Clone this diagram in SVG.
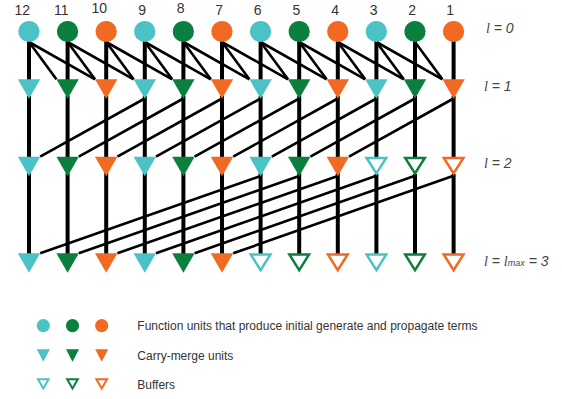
<svg xmlns="http://www.w3.org/2000/svg" xmlns:xlink="http://www.w3.org/1999/xlink" width="562" height="399" viewBox="0 0 562 399">
  <style>
    .teal { fill: #4BC3C6; }
    .green { fill: #0B7F3E; }
    .orange { fill: #F26A21; }
    .buf { fill: #FFFFFF; stroke-width: 2.5; stroke-linejoin: miter; }
    .buf.t { stroke: #4BC3C6; }
    .buf.g { stroke: #0B7F3E; }
    .buf.o { stroke: #F26A21; }
    .lbuf { fill: #FFFFFF; stroke-width: 2; }
    .lbuf.t { stroke: #4BC3C6; }
    .lbuf.g { stroke: #0B7F3E; }
    .lbuf.o { stroke: #F26A21; }
    .vert line { stroke: #000; stroke-width: 4; }
    .diag line { stroke: #000; stroke-width: 2.6; }
    .bit { font-family: "Liberation Sans", Arial, sans-serif; font-size: 14px; fill: #333; text-anchor: end; }
    .lvl { font-family: "Liberation Sans", Arial, sans-serif; font-size: 14px; font-style: italic; fill: #444; }
    .lvl .ell { font-family: "Liberation Serif", "Times New Roman", serif; }
    .lvl .sub { font-size: 9px; }
    .leg { font-family: "Liberation Sans", Arial, sans-serif; font-size: 12px; fill: #333; }
  </style>
  <defs>
    <polygon id="tri" points="-11.2,0 11.2,0 0,19.5"/>
    <polygon id="htri" points="-9.8,1.25 9.8,1.25 0,16.8"/>
    <polygon id="stri" points="-6.5,0 6.5,0 0,12.4"/>
    <polygon id="shtri" points="-5.3,1 5.3,1 0,10.2"/>
  </defs>

  <!-- connectors -->
  <g id="connectors">
    <g class="vert">
      <!-- input circle to level 1 -->
      <line x1="29" y1="31.5" x2="29" y2="82"/>
      <line x1="67.6" y1="31.5" x2="67.6" y2="82"/>
      <line x1="106.2" y1="31.5" x2="106.2" y2="82"/>
      <line x1="144.8" y1="31.5" x2="144.8" y2="82"/>
      <line x1="183.4" y1="31.5" x2="183.4" y2="82"/>
      <line x1="222" y1="31.5" x2="222" y2="82"/>
      <line x1="260.6" y1="31.5" x2="260.6" y2="82"/>
      <line x1="299.2" y1="31.5" x2="299.2" y2="82"/>
      <line x1="337.8" y1="31.5" x2="337.8" y2="82"/>
      <line x1="376.4" y1="31.5" x2="376.4" y2="82"/>
      <line x1="415" y1="31.5" x2="415" y2="82"/>
      <line x1="453.6" y1="31.5" x2="453.6" y2="82"/>
      <!-- level 1 to level 2 -->
      <line x1="29" y1="96" x2="29" y2="160"/>
      <line x1="67.6" y1="96" x2="67.6" y2="160"/>
      <line x1="106.2" y1="96" x2="106.2" y2="160"/>
      <line x1="144.8" y1="96" x2="144.8" y2="160"/>
      <line x1="183.4" y1="96" x2="183.4" y2="160"/>
      <line x1="222" y1="96" x2="222" y2="160"/>
      <line x1="260.6" y1="96" x2="260.6" y2="160"/>
      <line x1="299.2" y1="96" x2="299.2" y2="160"/>
      <line x1="337.8" y1="96" x2="337.8" y2="160"/>
      <line x1="376.4" y1="96" x2="376.4" y2="158.5"/>
      <line x1="415" y1="96" x2="415" y2="158.5"/>
      <line x1="453.6" y1="96" x2="453.6" y2="158.5"/>
      <!-- level 2 to level 3 -->
      <line x1="29" y1="173" x2="29" y2="257"/>
      <line x1="67.6" y1="173" x2="67.6" y2="257"/>
      <line x1="106.2" y1="173" x2="106.2" y2="257"/>
      <line x1="144.8" y1="173" x2="144.8" y2="257"/>
      <line x1="183.4" y1="173" x2="183.4" y2="257"/>
      <line x1="222" y1="173" x2="222" y2="257"/>
      <line x1="260.6" y1="173" x2="260.6" y2="255"/>
      <line x1="299.2" y1="173" x2="299.2" y2="255"/>
      <line x1="337.8" y1="173" x2="337.8" y2="255"/>
      <line x1="376.4" y1="174" x2="376.4" y2="255"/>
      <line x1="415" y1="174" x2="415" y2="255"/>
      <line x1="453.6" y1="174" x2="453.6" y2="255"/>
    </g>
    <g class="diag">
      <!-- input circles to level 1 (spans 1 and 2) -->
      <line x1="29" y1="42" x2="56.4" y2="79.3"/>
      <line x1="29" y1="42" x2="95" y2="79.3"/>
      <line x1="67.6" y1="42" x2="95" y2="79.3"/>
      <line x1="67.6" y1="42" x2="133.6" y2="79.3"/>
      <line x1="106.2" y1="42" x2="133.6" y2="79.3"/>
      <line x1="106.2" y1="42" x2="172.2" y2="79.3"/>
      <line x1="144.8" y1="42" x2="172.2" y2="79.3"/>
      <line x1="144.8" y1="42" x2="210.8" y2="79.3"/>
      <line x1="183.4" y1="42" x2="210.8" y2="79.3"/>
      <line x1="183.4" y1="42" x2="249.4" y2="79.3"/>
      <line x1="222" y1="42" x2="249.4" y2="79.3"/>
      <line x1="222" y1="42" x2="288" y2="79.3"/>
      <line x1="260.6" y1="42" x2="288" y2="79.3"/>
      <line x1="260.6" y1="42" x2="326.6" y2="79.3"/>
      <line x1="299.2" y1="42" x2="326.6" y2="79.3"/>
      <line x1="299.2" y1="42" x2="365.2" y2="79.3"/>
      <line x1="337.8" y1="42" x2="365.2" y2="79.3"/>
      <line x1="337.8" y1="42" x2="403.8" y2="79.3"/>
      <line x1="376.4" y1="42" x2="403.8" y2="79.3"/>
      <line x1="376.4" y1="42" x2="442.4" y2="79.3"/>
      <line x1="415" y1="42" x2="442.4" y2="79.3"/>
      <!-- level 1 to level 2 (span 3) -->
      <line x1="144.8" y1="98.5" x2="40.2" y2="156.7"/>
      <line x1="183.4" y1="98.5" x2="78.8" y2="156.7"/>
      <line x1="222" y1="98.5" x2="117.4" y2="156.7"/>
      <line x1="260.6" y1="98.5" x2="156" y2="156.7"/>
      <line x1="299.2" y1="98.5" x2="194.6" y2="156.7"/>
      <line x1="337.8" y1="98.5" x2="233.2" y2="156.7"/>
      <line x1="376.4" y1="98.5" x2="271.8" y2="156.7"/>
      <line x1="415" y1="98.5" x2="310.4" y2="156.7"/>
      <line x1="453.6" y1="98.5" x2="349" y2="156.7"/>
      <!-- level 2 to level 3 (span 6) -->
      <line x1="260.6" y1="176" x2="40.2" y2="253.3"/>
      <line x1="299.2" y1="176" x2="78.8" y2="253.3"/>
      <line x1="337.8" y1="176" x2="117.4" y2="253.3"/>
      <line x1="376.4" y1="175.8" x2="156" y2="253.3"/>
      <line x1="415" y1="175.8" x2="194.6" y2="253.3"/>
      <line x1="453.6" y1="175.8" x2="233.2" y2="253.3"/>
    </g>
  </g>

  <!-- level 0: function units -->
  <g id="in12"><text class="bit" x="30" y="15">12</text><circle class="teal" cx="29" cy="31.5" r="10.6"/></g>
  <g id="in11"><text class="bit" x="68.6" y="15">11</text><circle class="green" cx="67.6" cy="31.5" r="10.6"/></g>
  <g id="in10"><text class="bit" x="107" y="12.5">10</text><circle class="orange" cx="106.2" cy="31.5" r="10.6"/></g>
  <g id="in9"><text class="bit" x="146" y="15">9</text><circle class="teal" cx="144.8" cy="31.5" r="10.6"/></g>
  <g id="in8"><text class="bit" x="184.5" y="12.7">8</text><circle class="green" cx="183.4" cy="31.5" r="10.6"/></g>
  <g id="in7"><text class="bit" x="223" y="15">7</text><circle class="orange" cx="222" cy="31.5" r="10.6"/></g>
  <g id="in6"><text class="bit" x="261.5" y="15">6</text><circle class="teal" cx="260.6" cy="31.5" r="10.6"/></g>
  <g id="in5"><text class="bit" x="300.2" y="15">5</text><circle class="green" cx="299.2" cy="31.5" r="10.6"/></g>
  <g id="in4"><text class="bit" x="339" y="15">4</text><circle class="orange" cx="337.8" cy="31.5" r="10.6"/></g>
  <g id="in3"><text class="bit" x="377.5" y="15">3</text><circle class="teal" cx="376.4" cy="31.5" r="10.6"/></g>
  <g id="in2"><text class="bit" x="416" y="15">2</text><circle class="green" cx="415" cy="31.5" r="10.6"/></g>
  <g id="in1"><text class="bit" x="454" y="15">1</text><circle class="orange" cx="453.6" cy="31.5" r="10.6"/></g>

  <!-- level 1: carry-merge units -->
  <g id="l1_12"><use xlink:href="#tri" class="teal" transform="translate(29,79.3)"/></g>
  <g id="l1_11"><use xlink:href="#tri" class="green" transform="translate(67.6,79.3)"/></g>
  <g id="l1_10"><use xlink:href="#tri" class="orange" transform="translate(106.2,79.3)"/></g>
  <g id="l1_9"><use xlink:href="#tri" class="teal" transform="translate(144.8,79.3)"/></g>
  <g id="l1_8"><use xlink:href="#tri" class="green" transform="translate(183.4,79.3)"/></g>
  <g id="l1_7"><use xlink:href="#tri" class="orange" transform="translate(222,79.3)"/></g>
  <g id="l1_6"><use xlink:href="#tri" class="teal" transform="translate(260.6,79.3)"/></g>
  <g id="l1_5"><use xlink:href="#tri" class="green" transform="translate(299.2,79.3)"/></g>
  <g id="l1_4"><use xlink:href="#tri" class="orange" transform="translate(337.8,79.3)"/></g>
  <g id="l1_3"><use xlink:href="#tri" class="teal" transform="translate(376.4,79.3)"/></g>
  <g id="l1_2"><use xlink:href="#tri" class="green" transform="translate(415,79.3)"/></g>
  <g id="l1_1"><use xlink:href="#tri" class="orange" transform="translate(453.6,79.3)"/></g>

  <!-- level 2 -->
  <g id="l2_12"><use xlink:href="#tri" class="teal" transform="translate(29,156.7)"/></g>
  <g id="l2_11"><use xlink:href="#tri" class="green" transform="translate(67.6,156.7)"/></g>
  <g id="l2_10"><use xlink:href="#tri" class="orange" transform="translate(106.2,156.7)"/></g>
  <g id="l2_9"><use xlink:href="#tri" class="teal" transform="translate(144.8,156.7)"/></g>
  <g id="l2_8"><use xlink:href="#tri" class="green" transform="translate(183.4,156.7)"/></g>
  <g id="l2_7"><use xlink:href="#tri" class="orange" transform="translate(222,156.7)"/></g>
  <g id="l2_6"><use xlink:href="#tri" class="teal" transform="translate(260.6,156.7)"/></g>
  <g id="l2_5"><use xlink:href="#tri" class="green" transform="translate(299.2,156.7)"/></g>
  <g id="l2_4"><use xlink:href="#tri" class="orange" transform="translate(337.8,156.7)"/></g>
  <g id="l2_3"><use xlink:href="#htri" class="buf t" transform="translate(376.4,156.7)"/></g>
  <g id="l2_2"><use xlink:href="#htri" class="buf g" transform="translate(415,156.7)"/></g>
  <g id="l2_1"><use xlink:href="#htri" class="buf o" transform="translate(453.6,156.7)"/></g>

  <!-- level 3 -->
  <g id="l3_12"><use xlink:href="#tri" class="teal" transform="translate(29,253.3)"/></g>
  <g id="l3_11"><use xlink:href="#tri" class="green" transform="translate(67.6,253.3)"/></g>
  <g id="l3_10"><use xlink:href="#tri" class="orange" transform="translate(106.2,253.3)"/></g>
  <g id="l3_9"><use xlink:href="#tri" class="teal" transform="translate(144.8,253.3)"/></g>
  <g id="l3_8"><use xlink:href="#tri" class="green" transform="translate(183.4,253.3)"/></g>
  <g id="l3_7"><use xlink:href="#tri" class="orange" transform="translate(222,253.3)"/></g>
  <g id="l3_6"><use xlink:href="#htri" class="buf t" transform="translate(260.6,253.3)"/></g>
  <g id="l3_5"><use xlink:href="#htri" class="buf g" transform="translate(299.2,253.3)"/></g>
  <g id="l3_4"><use xlink:href="#htri" class="buf o" transform="translate(337.8,253.3)"/></g>
  <g id="l3_3"><use xlink:href="#htri" class="buf t" transform="translate(376.4,253.3)"/></g>
  <g id="l3_2"><use xlink:href="#htri" class="buf g" transform="translate(415,253.3)"/></g>
  <g id="l3_1"><use xlink:href="#htri" class="buf o" transform="translate(453.6,253.3)"/></g>

  <!-- level labels -->
  <g id="levels">
    <text class="lvl" x="486" y="33"><tspan class="ell">l</tspan> = 0</text>
    <text class="lvl" x="484" y="91"><tspan class="ell">l</tspan> = 1</text>
    <text class="lvl" x="484" y="168"><tspan class="ell">l</tspan> = 2</text>
    <text class="lvl" x="484" y="266"><tspan class="ell">l</tspan> = <tspan class="ell">l</tspan><tspan class="sub">max</tspan> = 3</text>
  </g>

  <!-- legend -->
  <g id="legend">
    <circle class="teal" cx="43.3" cy="325.7" r="6.6"/>
    <circle class="green" cx="72.5" cy="325.7" r="6.6"/>
    <circle class="orange" cx="101.7" cy="325.7" r="6.6"/>
    <text class="leg" x="137.3" y="329.5">Function units that produce initial generate and propagate terms</text>
    <use xlink:href="#stri" class="teal" transform="translate(43.3,349.3)"/>
    <use xlink:href="#stri" class="green" transform="translate(72.5,349.3)"/>
    <use xlink:href="#stri" class="orange" transform="translate(101.7,349.3)"/>
    <text class="leg" x="137.3" y="359.5">Carry-merge units</text>
    <use xlink:href="#shtri" class="lbuf t" transform="translate(43.3,378.3)"/>
    <use xlink:href="#shtri" class="lbuf g" transform="translate(72.5,378.3)"/>
    <use xlink:href="#shtri" class="lbuf o" transform="translate(101.7,378.3)"/>
    <text class="leg" x="137.3" y="388.5">Buffers</text>
  </g>
</svg>
